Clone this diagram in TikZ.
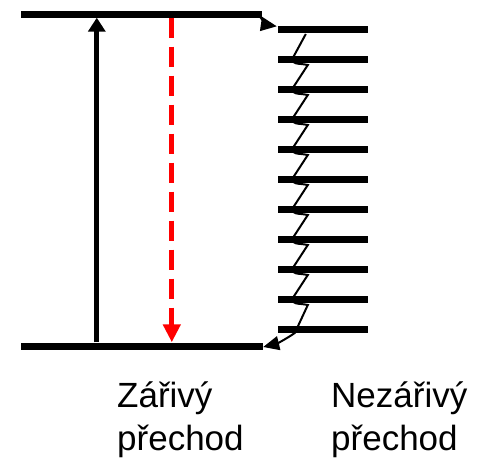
\documentclass[tikz,border=0pt]{standalone}
\usepackage{fontspec}
\setmainfont{Liberation Sans}
\usetikzlibrary{arrows.meta,calc}
\definecolor{emitred}{HTML}{FF0000}

\begin{document}
\begin{tikzpicture}[x=1pt,y=-1pt,>=Triangle,
  level/.style={fill=black,inner sep=0pt,minimum height=7pt,minimum width=#1},
  caption/.style={align=left,anchor=base west,inner sep=0pt,font=\fontsize{35}{43}\selectfont}]
\useasboundingbox (0,0) rectangle (477,458);
% levels
\node[level=241pt] (top) at (141.5,14) {};
\node[level=242pt] (bot) at (142,346) {};
\foreach \k in {0,...,10}
  \node[level=90pt] (r\k) at (323,29+30*\k) {};
% radiative transitions
\draw[line width=5pt,-{Triangle[length=14pt,width=17pt]}] ([xshift=76pt]bot.north west) -- ([xshift=76pt]top.south west);
\draw[line width=5pt,emitred,dash pattern=on 20pt off 9pt,-{Triangle[length=18pt,width=17pt]}] ([xshift=151pt]top.south west) -- ([xshift=151pt]bot.north west);
% nonradiative relaxation
\draw[line width=2pt,-{Triangle[length=16pt,width=14pt]}] ([xshift=-4pt]top.east) to[bend right=25] ($(r0.north west)+(-1,1)$);
\draw[line width=2pt,-{Triangle[length=16pt,width=14pt]}] ($(r0.west)+(28,5)$)
  \foreach \n in {1,...,9} { -- ($(r\n.west)+(15,-1)$)
    .. controls ($(r\n.west)+(13,6)$) and ($(r\n.west)+(21,4)$) .. ($(r\n.west)+(30,6)$) }
  -- ($(r10.west)+(17,4)$) to[bend left=10] ([yshift=-1pt]bot.east);
\node[caption] (rad) at (117,450) {Zářivý\\přechod};
\node[caption] (nonrad) at (331,450) {Nezářivý\\přechod};
\end{tikzpicture}
\end{document}
